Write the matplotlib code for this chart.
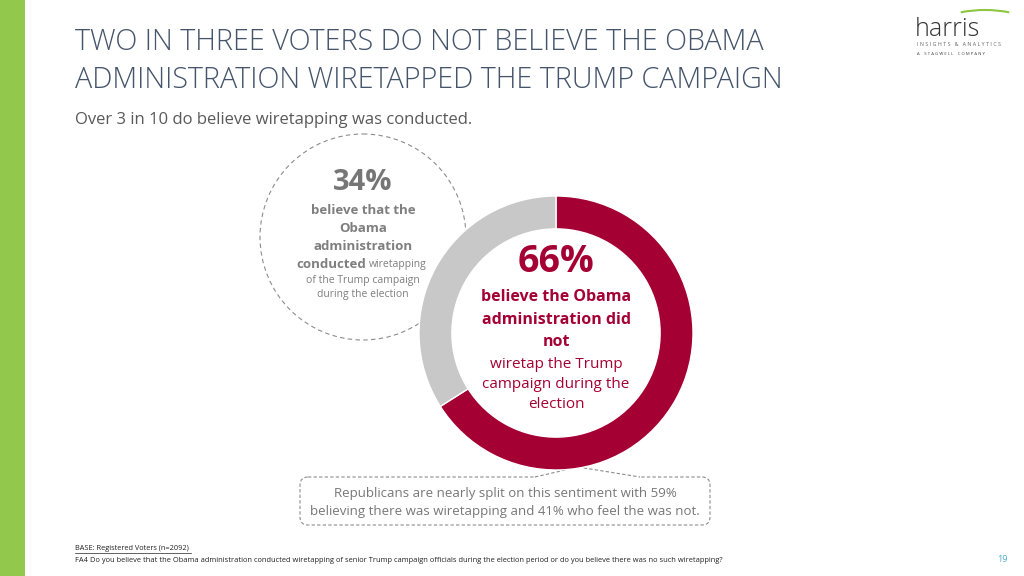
import matplotlib
matplotlib.use("Agg")
import matplotlib.pyplot as plt
from matplotlib.patches import Circle, Rectangle, FancyBboxPatch, Arc

# data
labels = ["did not wiretap", "conducted wiretapping"]
shares = [66, 34]
colors = ["#A50034", "#C8C8C8"]

title_lines = ["TWO IN THREE VOTERS DO NOT BELIEVE THE OBAMA",
               "ADMINISTRATION WIRETAPPED THE TRUMP CAMPAIGN"]
subtitle = "Over 3 in 10 do believe wiretapping was conducted."
note_text = ["Republicans are nearly split on this sentiment with 59%",
             "believing there was wiretapping and 41% who feel the was not."]
base_text = "BASE: Registered Voters (n=2092)"
question_text = ("FA4 Do you believe that the Obama administration conducted wiretapping of senior "
                 "Trump campaign officials during the election period or do you believe there was no such wiretapping?")
page_no = "19"

plt.rcParams['font.family'] = ['Open Sans', 'DejaVu Sans']

W, H = 1024, 576
fig = plt.figure(figsize=(W / 100, H / 100), dpi=100)
ax = fig.add_axes([0, 0, 1, 1])
ax.set_xlim(0, W)
ax.set_ylim(H, 0)
ax.axis('off')

# green side bar
ax.add_patch(Rectangle((0, 0), 25, H, color="#92C84C", lw=0))

# title
title_col = "#44546A"
ax.text(75, 42, title_lines[0], fontsize=20.7, color=title_col, va='center', ha='left', fontweight='light')
ax.text(75, 80, title_lines[1], fontsize=20.7, color=title_col, va='center', ha='left', fontweight='light')
ax.text(75, 120, subtitle, fontsize=12, color="#595959", va='center', ha='left')

# donut
cx, cy, r = 556, 333, 137
dax = fig.add_axes([(cx - r) / W, (H - cy - r) / H, 2 * r / W, 2 * r / H])
dax.pie(shares, colors=colors, startangle=90, counterclock=False, radius=1,
        wedgeprops=dict(width=0.24, edgecolor='white', linewidth=1))
dax.set_xlim(-1, 1)
dax.set_ylim(-1, 1)
dax.axis('off')

red = colors[0]
ax.text(cx, 262, f"{shares[0]}%", fontsize=27, fontweight='bold', color=red, ha='center', va='center')
for y, s in zip([297, 320, 342], ["believe the Obama", "administration did", "not"]):
    ax.text(cx, y, s, fontsize=11.5, fontweight='bold', color=red, ha='center', va='center')
for y, s in zip([364, 385, 405], ["wiretap the Trump", "campaign during the", "election"]):
    ax.text(cx, y, s, fontsize=11, color=red, ha='center', va='center')

# dashed circle with the 34%
lcx, lcy, lr = 363, 237, 103
ax.add_patch(Circle((lcx, lcy), lr, fill=False, ec="#8C8C8C", lw=0.8, ls=(0, (4, 3))))
gtxt = "#7F7F7F"
ax.text(lcx, 182, f"{shares[1]}%", fontsize=21, fontweight='bold', color="#767676", ha='center', va='center')
for y, s in zip([210, 228, 246], ["believe that the", "Obama", "administration"]):
    ax.text(lcx, y, s, fontsize=9.5, fontweight='bold', color=gtxt, ha='center', va='center')
ax.text(366, 264, "conducted", fontsize=9.5, fontweight='bold', color=gtxt, ha='right', va='center')
ax.text(369, 265, "wiretapping", fontsize=7.5, color=gtxt, ha='left', va='center')
ax.text(lcx, 280, "of the Trump campaign", fontsize=7.5, color=gtxt, ha='center', va='center')
ax.text(lcx, 294, "during the election", fontsize=7.5, color=gtxt, ha='center', va='center')

# callout box with pointer
box_col = "#8C8C8C"
ax.add_patch(FancyBboxPatch((300, 477), 410, 48, boxstyle="round,pad=0,rounding_size=8",
                            fill=False, ec=box_col, lw=0.8, ls=(0, (3, 2))))
ax.plot([537, 638], [477, 477], color='white', lw=1.6)
ax.plot([535, 578, 640], [477, 467, 477], color=box_col, lw=0.8, ls=(0, (3, 2)))
ax.text(505, 493, note_text[0], fontsize=9.5, color="#777777", ha='center', va='center')
ax.text(505, 512, note_text[1], fontsize=9.5, color="#777777", ha='center', va='center')

# footnotes
ax.text(75, 549, base_text, fontsize=5.3, color="#222222", ha='left', va='center')
ax.plot([75, 191], [553, 553], color="#222222", lw=0.5)
ax.text(75, 561, question_text, fontsize=5.4, color="#222222", ha='left', va='center')
ax.text(1002, 560, page_no, fontsize=6.5, color="#4BACC6", ha='center', va='center')

# logo
ax.add_patch(Arc((985, 60), 160, 100, theta1=243, theta2=297, color="#8DC63F", lw=1.5))
ax.text(915, 30, "harris", fontsize=18, color="#333333", ha='left', va='center', fontweight='light')
ax.text(917, 44, "I N S I G H T S   &   A N A L Y T I C S", fontsize=3.9, color="#666666", ha='left', va='center')
ax.text(917, 54, "A    S T A G W E L L    C O M P A N Y", fontsize=3.1, color="#444444", ha='left', va='center')

fig.savefig("out.png", dpi=100)
